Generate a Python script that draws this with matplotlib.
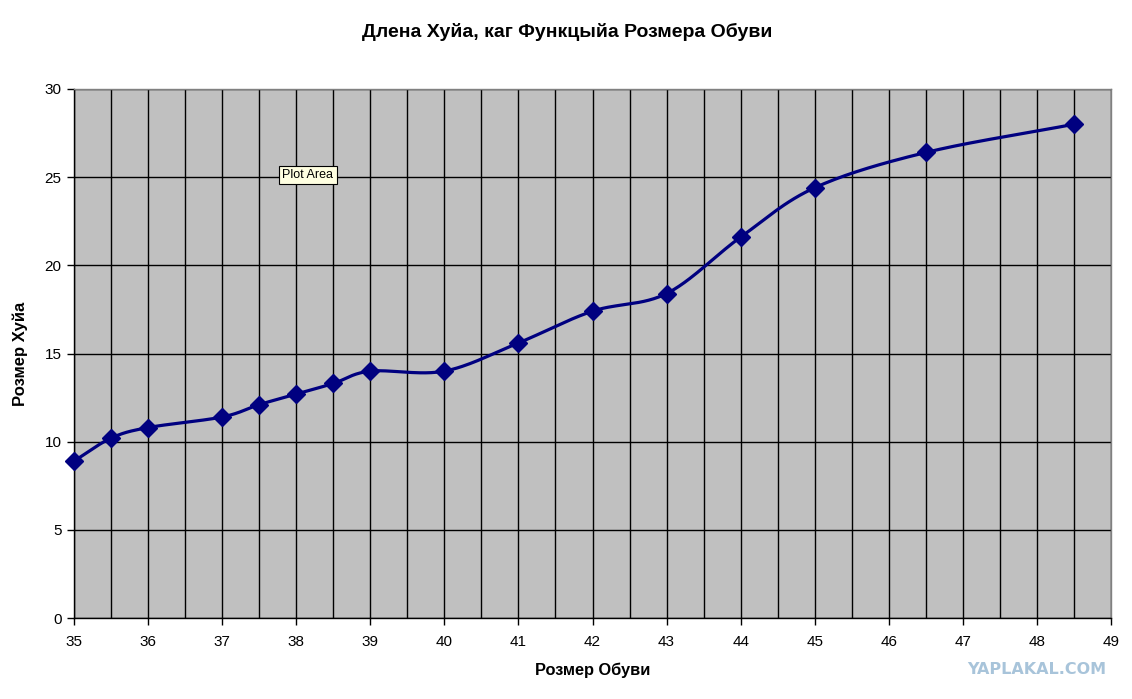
import numpy as np
import matplotlib
matplotlib.use("Agg")
import matplotlib.pyplot as plt
from matplotlib.ticker import MultipleLocator

plt.rcParams['font.family'] = ['Liberation Sans', 'DejaVu Sans']

shoe_size = [35, 35.5, 36, 37, 37.5, 38, 38.5, 39, 40, 41, 42, 43, 44, 45, 46.5, 48.5]
length = [8.9, 10.2, 10.8, 11.4, 12.1, 12.7, 13.3, 14.0, 14.0, 15.6, 17.4, 18.4, 21.6, 24.4, 26.4, 28.0]

title = "Длена Хуйа, каг Функцыйа Розмера Обуви"
xlabel = "Розмер Обуви"
ylabel = "Розмер Хуйа"


def smooth(xs, ys, n=30):
    # Catmull-Rom style smoothing through the points (like Excel's smoothed line)
    xs = np.asarray(xs, float)
    ys = np.asarray(ys, float)
    px = np.concatenate([[2 * xs[0] - xs[1]], xs, [2 * xs[-1] - xs[-2]]])
    py = np.concatenate([[2 * ys[0] - ys[1]], ys, [2 * ys[-1] - ys[-2]]])
    outx, outy = [], []
    for i in range(1, len(px) - 2):
        p0 = np.array([px[i - 1], py[i - 1]])
        p1 = np.array([px[i], py[i]])
        p2 = np.array([px[i + 1], py[i + 1]])
        p3 = np.array([px[i + 2], py[i + 2]])
        c1 = p1 + (p2 - p0) / 6.0
        c2 = p2 - (p3 - p1) / 6.0
        t = np.linspace(0, 1, n)[:, None]
        b = ((1 - t) ** 3) * p1 + 3 * ((1 - t) ** 2) * t * c1 + 3 * (1 - t) * t ** 2 * c2 + t ** 3 * p2
        outx.extend(b[:, 0])
        outy.extend(b[:, 1])
    return np.array(outx), np.array(outy)


fig = plt.figure(figsize=(11.32, 6.99), dpi=100)
ax = fig.add_axes([74 / 1132, 81 / 699, (1111 - 74) / 1132, (618 - 89) / 699])
ax.set_facecolor('#C0C0C0')

sx, sy = smooth(shoe_size, length)
ax.plot(sx, sy, color='#000080', lw=2.3, zorder=3, solid_capstyle='round')
ax.plot(shoe_size, length, linestyle='none', marker='D', markersize=9,
        color='#000080', zorder=4, clip_on=False)

ax.set_xlim(35, 49)
ax.set_ylim(0, 30)
ax.xaxis.set_major_locator(MultipleLocator(1))
ax.xaxis.set_minor_locator(MultipleLocator(0.5))
ax.yaxis.set_major_locator(MultipleLocator(5))
ax.grid(True, which='both', axis='x', color='black', lw=1.0, zorder=1)
ax.grid(True, which='major', axis='y', color='black', lw=1.0, zorder=1)
ax.set_axisbelow(True)

ax.tick_params(axis='both', which='major', direction='out', length=5, width=1,
               labelsize=11, color='black', pad=4)
ax.tick_params(axis='x', which='major', pad=7)
ax.tick_params(axis='x', which='minor', length=0)

for s in ['top', 'right']:
    ax.spines[s].set_color('#808080')
    ax.spines[s].set_linewidth(1)
for s in ['left', 'bottom']:
    ax.spines[s].set_color('black')
    ax.spines[s].set_linewidth(1)

ax.set_xlabel(xlabel, fontsize=11.8, fontweight='bold', labelpad=10)
ax.set_ylabel(ylabel, fontsize=12, fontweight='bold', labelpad=12)
fig.text(567 / 1132, 1 - 32 / 699, title, ha='center', va='center',
         fontsize=14, fontweight='bold')

fig.text(308 / 1132, 1 - 175 / 699, "Plot Area", ha='center', va='center', fontsize=9,
         bbox=dict(boxstyle='square,pad=0.25', facecolor='#FFFFE1', edgecolor='black', lw=0.8),
         zorder=10)

fig.text(1037 / 1132, 1 - 670 / 699, "YAPLAKAL.COM", ha='center', va='center',
         fontsize=11.5, fontweight='bold', color='#A8C4DA', family='DejaVu Sans')

fig.savefig('out.png', dpi=100, facecolor='white')
